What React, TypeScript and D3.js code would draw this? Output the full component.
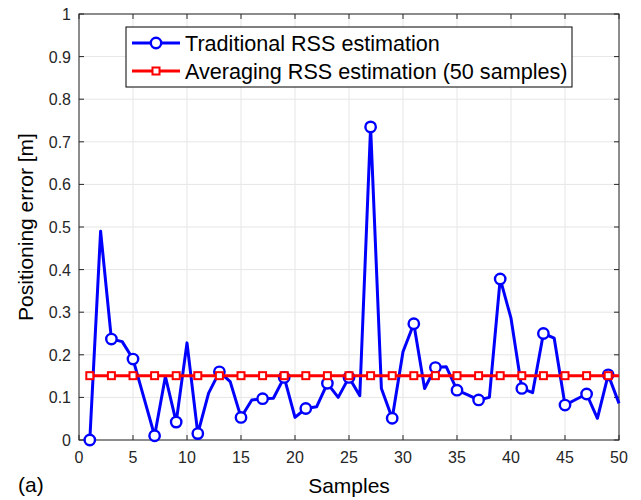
import React from "react";
import * as d3 from "d3";

const samples: number[] = d3.range(1, 51);
const traditional: number[] = [
  0.0, 0.49, 0.237, 0.231, 0.19, 0.1, 0.01, 0.149, 0.042, 0.228,
  0.015, 0.11, 0.16, 0.137, 0.053, 0.094, 0.097, 0.098, 0.147, 0.053,
  0.074, 0.078, 0.133, 0.1, 0.147, 0.104, 0.735, 0.121, 0.051, 0.207,
  0.273, 0.121, 0.17, 0.172, 0.117, 0.106, 0.094, 0.1, 0.378, 0.286,
  0.121, 0.111, 0.25, 0.239, 0.082, 0.095, 0.108, 0.051, 0.153, 0.086,
];
const averaging: number[] = samples.map(() => 0.151);
const xTicks: number[] = [0, 5, 10, 15, 20, 25, 30, 35, 40, 45, 50];
const yTicks: number[] = [0, 0.1, 0.2, 0.3, 0.4, 0.5, 0.6, 0.7, 0.8, 0.9, 1];
const legendLabels: string[] = [
  "Traditional RSS estimation",
  "Averaging RSS estimation (50 samples)",
];

const W = 641, H = 500;
const L = 79, R = 619, T = 14, B = 440;
const FONT = "'Liberation Sans', Arial, Helvetica, sans-serif";

export default function App() {
  const x = d3.scaleLinear().domain([0, 50]).range([L, R]);
  const y = d3.scaleLinear().domain([0, 1]).range([B, T]);
  const line = d3
    .line<number>()
    .x((_, i) => x(samples[i]))
    .y((d) => y(d));
  const markerIdx = samples.map((s, i) => i).filter((i) => samples[i] % 2 === 1);

  const legX = 126, legY = 27, legW = 446, legH = 60;
  const row1 = 43, row2 = 71;

  return (
    <svg width={W} height={H} style={{ position: "absolute", left: 0, top: 0, background: "#fff" }} fontFamily={FONT}>
      <rect x={0} y={0} width={W} height={H} fill="#fff" />
      {/* grid */}
      {xTicks.map((t) => (
        <line key={"gx" + t} x1={x(t)} x2={x(t)} y1={T} y2={B} stroke="#e6e6e6" strokeWidth={1} />
      ))}
      {yTicks.map((t) => (
        <line key={"gy" + t} x1={L} x2={R} y1={y(t)} y2={y(t)} stroke="#e6e6e6" strokeWidth={1} />
      ))}
      {/* ticks */}
      {xTicks.map((t) => (
        <g key={"tx" + t}>
          <line x1={x(t)} x2={x(t)} y1={B} y2={B - 5} stroke="#262626" />
          <line x1={x(t)} x2={x(t)} y1={T} y2={T + 5} stroke="#262626" />
          <text x={x(t)} y={B + 23} textAnchor="middle" fontSize={16} fill="#262626">{t}</text>
        </g>
      ))}
      {yTicks.map((t) => (
        <g key={"ty" + t}>
          <line x1={L} x2={L + 5} y1={y(t)} y2={y(t)} stroke="#262626" />
          <line x1={R} x2={R - 5} y1={y(t)} y2={y(t)} stroke="#262626" />
          <text x={L - 8} y={y(t) + 6} textAnchor="end" fontSize={16} fill="#262626">{d3.format("~g")(t)}</text>
        </g>
      ))}
      {/* box */}
      <rect x={L} y={T} width={R - L} height={B - T} fill="none" stroke="#262626" strokeWidth={1} />
      {/* series */}
      <path d={line(traditional) || ""} fill="none" stroke="#0000ff" strokeWidth={3} strokeLinejoin="round" />
      {markerIdx.map((i) => (
        <circle key={"c" + i} cx={x(samples[i])} cy={y(traditional[i])} r={5.2} fill="#fff" stroke="#0000ff" strokeWidth={2.4} />
      ))}
      <path d={line(averaging) || ""} fill="none" stroke="#ff0000" strokeWidth={3} />
      {markerIdx.map((i) => (
        <rect key={"s" + i} x={x(samples[i]) - 3.5} y={y(averaging[i]) - 3.5} width={7} height={7} fill="#fff" stroke="#ff0000" strokeWidth={2} />
      ))}
      {/* legend */}
      <rect x={legX} y={legY} width={legW} height={legH} fill="#fff" stroke="#000" strokeWidth={1} />
      <line x1={legX + 6} x2={legX + 54} y1={row1} y2={row1} stroke="#0000ff" strokeWidth={3} />
      <circle cx={legX + 30} cy={row1} r={5.2} fill="#fff" stroke="#0000ff" strokeWidth={2.4} />
      <text x={legX + 59} y={row1 + 7.5} fontSize={21.6} fill="#000">{legendLabels[0]}</text>
      <line x1={legX + 6} x2={legX + 54} y1={row2} y2={row2} stroke="#ff0000" strokeWidth={3} />
      <rect x={legX + 26.5} y={row2 - 3.5} width={7} height={7} fill="#fff" stroke="#ff0000" strokeWidth={2} />
      <text x={legX + 59} y={row2 + 7.5} fontSize={21.6} fill="#000">{legendLabels[1]}</text>
      {/* labels */}
      <text x={(L + R) / 2} y={493} textAnchor="middle" fontSize={21} fill="#000">Samples</text>
      <text x={18} y={492} fontSize={21} fill="#000">(a)</text>
      <text transform={`translate(33, ${(T + B) / 2}) rotate(-90)`} textAnchor="middle" fontSize={21} fill="#000">Positioning error [m]</text>
    </svg>
  );
}
